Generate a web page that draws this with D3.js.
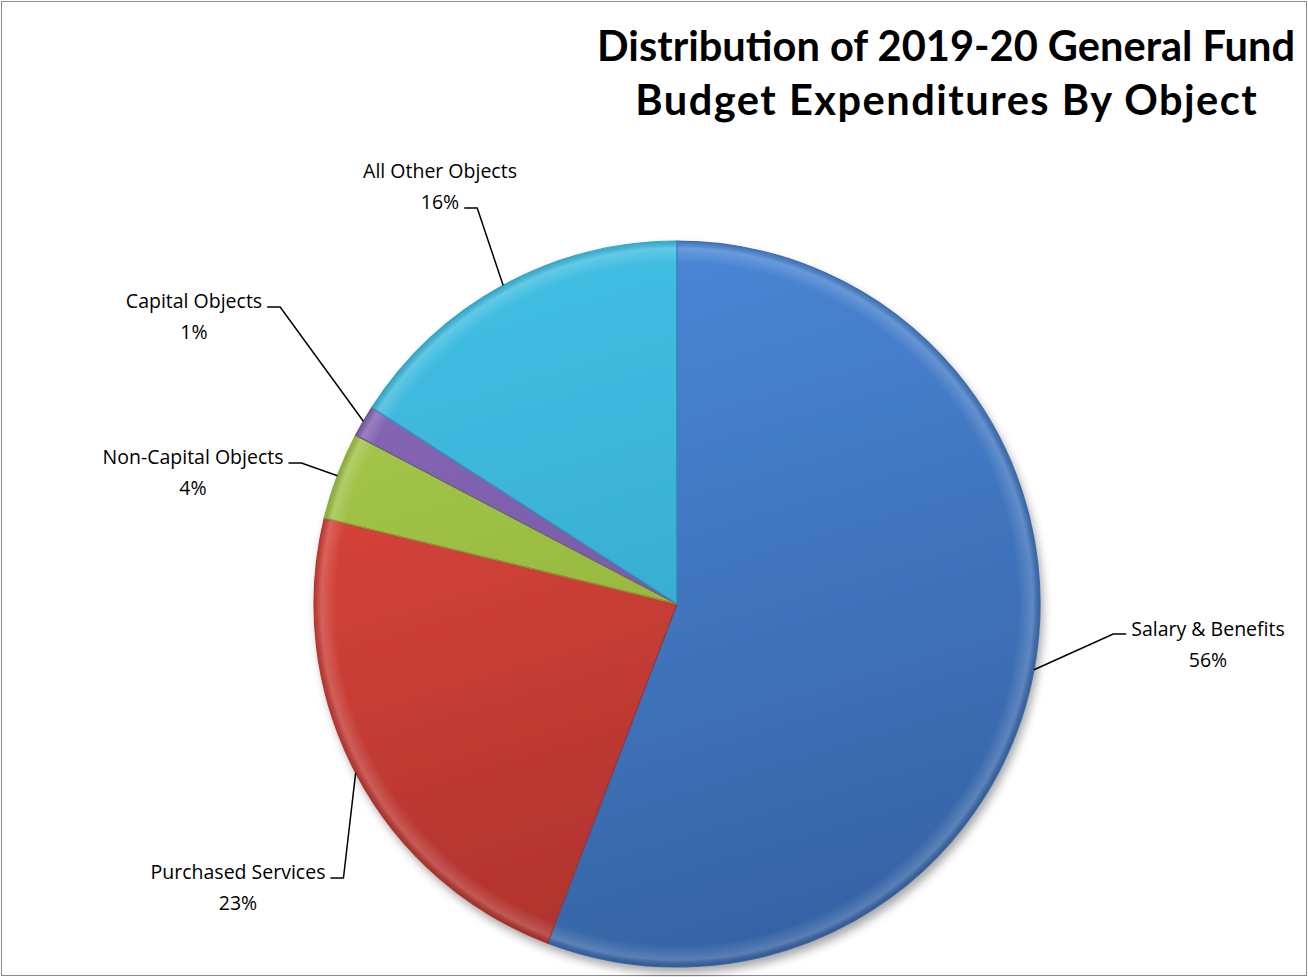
<!DOCTYPE html>
<html>
<head>
<meta charset="utf-8">
<script src="https://cdn.jsdelivr.net/npm/d3@7"></script>
<style>
  body { margin: 0; background: #fff; }
  text { fill: #000; }
</style>
</head>
<body>
<div id="chart"></div>
<script>
//define SVG size
var svgWidth = 1308;
var svgHeight = 977;

//chart data (share of budget, %)
var categories = ["Salary & Benefits", "Purchased Services", "Non-Capital Objects", "Capital Objects", "All Other Objects"];
var shares = [55.8, 23.0, 3.9, 1.4, 15.9];
var pctLabels = ["56%", "23%", "4%", "1%", "16%"];
var titleLines = ["Distribution of 2019-20 General Fund", "Budget Expenditures By Object"];

//slice colours: light (top) and dark (bottom)
var lightColors = ["#4a88d8", "#e4493f", "#a8ca4c", "#8869b8", "#42bfe3"];
var darkColors = ["#3562a3", "#a8302b", "#86a834", "#694d98", "#2e9dc1"];

//where each label block sits (centre x, first baseline y)
var labelLayout = [
  {cx: 1208, y: 636, side: "right"},
  {cx: 238, y: 879, side: "left"},
  {cx: 193, y: 464, side: "left"},
  {cx: 194, y: 308, side: "left"},
  {cx: 440, y: 178, side: "pct"}
];

var cx = 677, cy = 604, radius = 363;

var svg = d3.select("#chart")
  .append("svg")
  .attr("width", svgWidth)
  .attr("height", svgHeight);

var defs = svg.append("defs");

//drop shadow under the pie
var shadow = defs.append("filter").attr("id", "shadow")
  .attr("x", "-20%").attr("y", "-20%").attr("width", "140%").attr("height", "140%");
shadow.append("feDropShadow")
  .attr("dx", 3).attr("dy", 6).attr("stdDeviation", 5)
  .attr("flood-color", "#000").attr("flood-opacity", 0.35);

//one vertical gradient per slice (coords local to the pie group)
categories.forEach(function(c, i) {
  var g = defs.append("linearGradient")
    .attr("id", "grad" + i)
    .attr("gradientUnits", "userSpaceOnUse")
    .attr("x1", -radius * 0.3).attr("y1", -radius)
    .attr("x2", radius * 0.3).attr("y2", radius);
  g.append("stop").attr("offset", "0%").attr("stop-color", lightColors[i]);
  g.append("stop").attr("offset", "100%").attr("stop-color", darkColors[i]);
});

//bevel rim highlight
var rim = defs.append("radialGradient")
  .attr("id", "rim")
  .attr("gradientUnits", "userSpaceOnUse")
  .attr("cx", 0).attr("cy", 0).attr("r", radius);
rim.append("stop").attr("offset", "94%").attr("stop-color", "#fff").attr("stop-opacity", 0);
rim.append("stop").attr("offset", "98%").attr("stop-color", "#fff").attr("stop-opacity", 0.18);
rim.append("stop").attr("offset", "100%").attr("stop-color", "#000").attr("stop-opacity", 0.12);

//outer chart border
svg.append("rect")
  .attr("x", 1.5).attr("y", 1.5)
  .attr("width", svgWidth - 3).attr("height", svgHeight - 3)
  .attr("fill", "none")
  .attr("stroke", "#8c8c8c")
  .attr("stroke-width", 1);

//pie layout
var pie = d3.pie().sort(null).value(d => d);
var arcs = pie(shares);
var arc = d3.arc().innerRadius(0).outerRadius(radius);

var pieGroup = svg.append("g")
  .attr("transform", `translate(${cx}, ${cy})`);

pieGroup.append("g")
  .attr("filter", "url(#shadow)")
  .selectAll("path")
  .data(arcs)
  .enter()
  .append("path")
  .attr("d", arc)
  .attr("fill", (d, i) => `url(#grad${i})`);

//rim highlight and darker edges between slices
pieGroup.selectAll("path.edge")
  .data(arcs)
  .enter()
  .append("path")
  .classed("edge", true)
  .attr("d", arc)
  .attr("fill", "url(#rim)")
  .attr("stroke", (d, i) => darkColors[i])
  .attr("stroke-opacity", 0.9)
  .attr("stroke-width", 1.2);

//labels with leader lines
var lineH = 31;
var labelGroup = svg.append("g")
  .style("font-family", "'Open Sans', Lato, sans-serif")
  .style("font-size", "19.5px");

arcs.forEach(function(d, i) {
  var mid = (d.startAngle + d.endAngle) / 2;
  var px = cx + radius * Math.sin(mid);
  var py = cy - radius * Math.cos(mid);
  var L = labelLayout[i];

  var t1 = labelGroup.append("text")
    .attr("x", L.cx).attr("y", L.y)
    .attr("text-anchor", "middle")
    .text(categories[i]);
  var t2 = labelGroup.append("text")
    .attr("x", L.cx).attr("y", L.y + lineH)
    .attr("text-anchor", "middle")
    .text(pctLabels[i]);

  var pts;
  if (L.side === "right") {
    var hx = L.cx - t1.node().getComputedTextLength() / 2 - 5;
    pts = [[px, py], [hx - 13, L.y - 2], [hx, L.y - 2]];
  } else if (L.side === "pct") {
    //leader attaches beside the percentage line
    var hx2 = L.cx + t2.node().getComputedTextLength() / 2 + 5;
    pts = [[hx2, L.y + lineH - 1], [hx2 + 13, L.y + lineH - 1], [px, py]];
  } else {
    var hx3 = L.cx + t1.node().getComputedTextLength() / 2 + 5;
    pts = [[hx3, L.y - 1], [hx3 + 13, L.y - 1], [px, py]];
  }
  labelGroup.append("path")
    .attr("d", d3.line()(pts))
    .attr("fill", "none")
    .attr("stroke", "#000")
    .attr("stroke-width", 1.5);
});

//title: two bold lines, first one fitted to its width in the reference
var titleGroup = svg.append("g")
  .style("font-family", "Lato, 'Open Sans', sans-serif")
  .style("font-weight", "bold");
var t0 = titleGroup.append("text")
  .attr("x", 1295).attr("y", 61)
  .attr("text-anchor", "end")
  .style("font-size", "38px")
  .text(titleLines[0]);
var fitSize = 38 * 698 / t0.node().getComputedTextLength();
t0.style("font-size", fitSize + "px");
var tLine2 = titleGroup.append("text")
  .attr("x", 946).attr("y", 115)
  .attr("text-anchor", "middle")
  .style("font-size", fitSize + "px")
  .text(titleLines[1]);
//widen second line a touch so it spans like the original
var w2 = tLine2.node().getComputedTextLength();
var spacing = (623 - w2) / titleLines[1].length;
tLine2.style("letter-spacing", spacing + "px")
  .attr("x", 946 + spacing / 2);
</script>
</body>
</html>
